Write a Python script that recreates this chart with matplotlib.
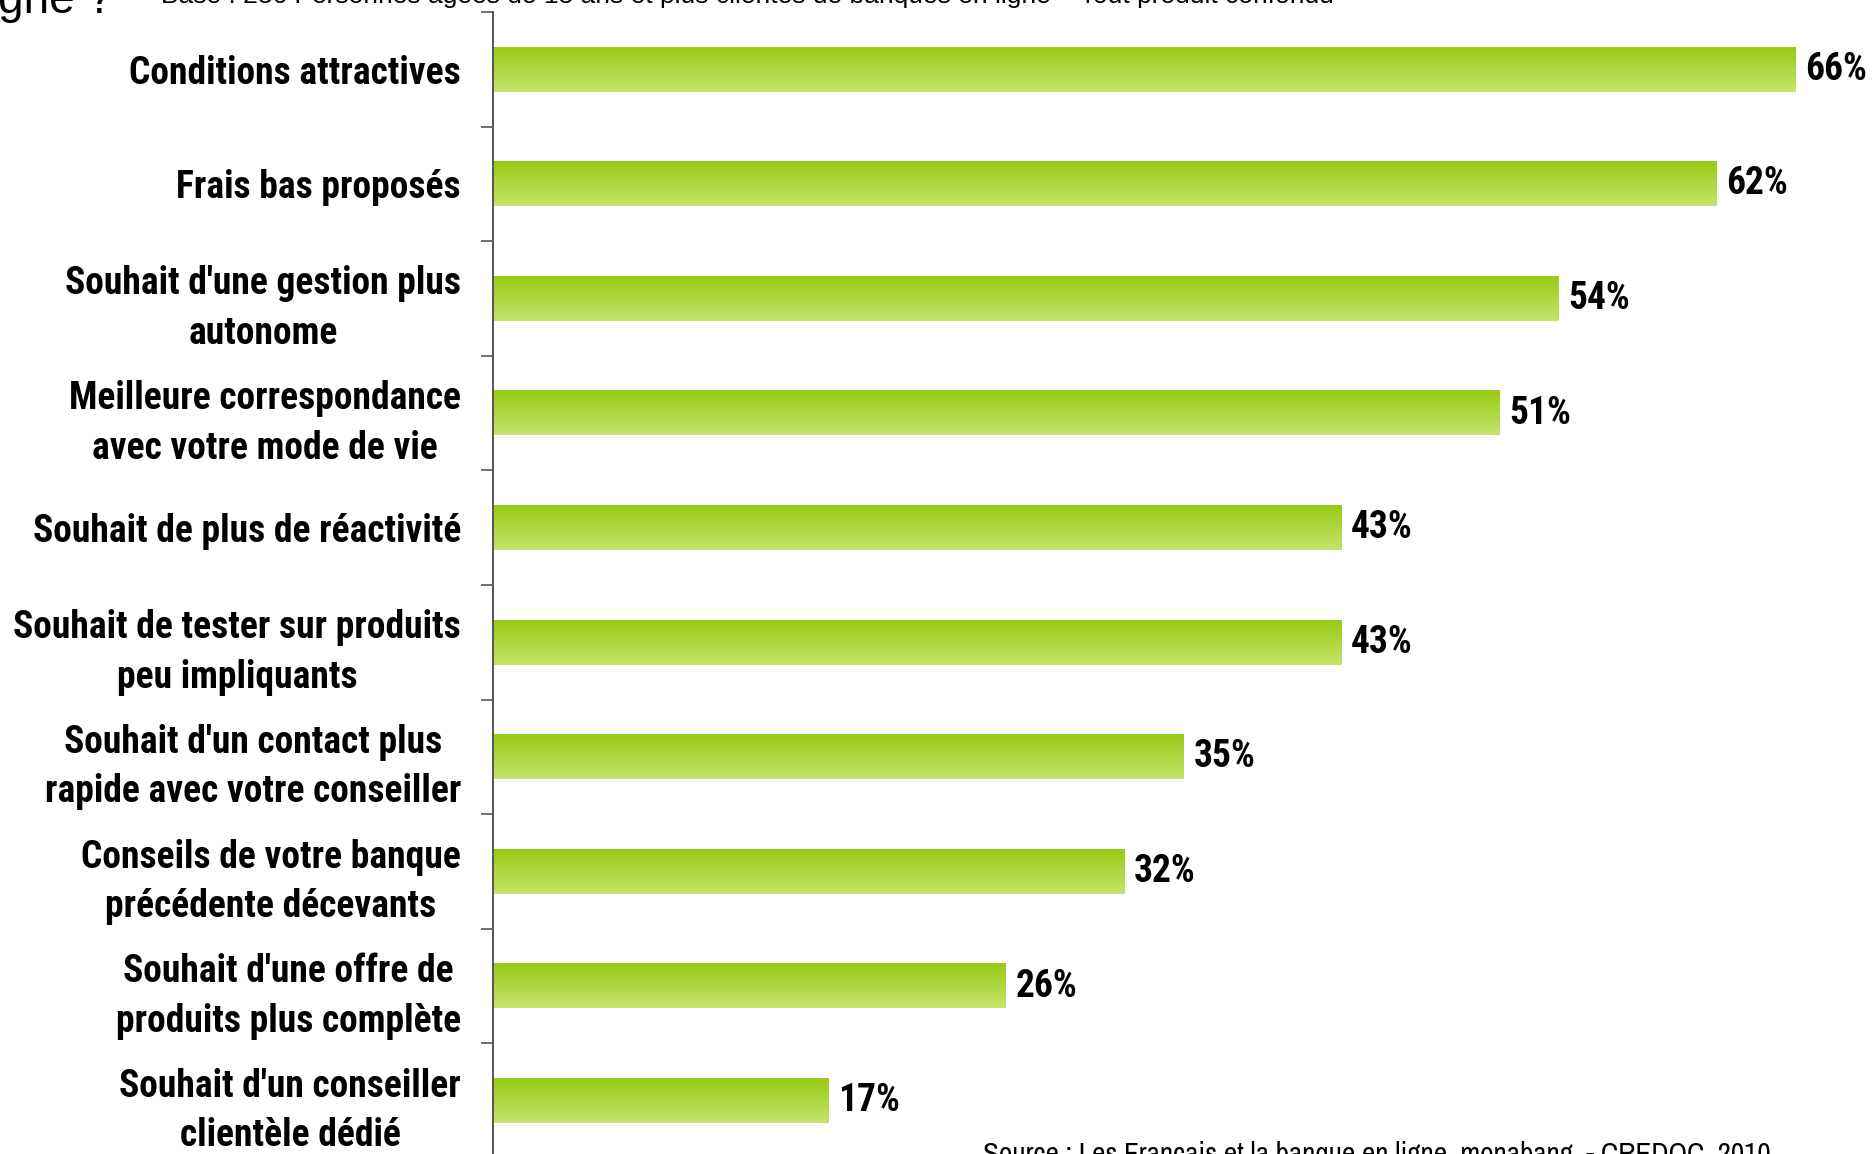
import numpy as np
import matplotlib
matplotlib.use("Agg")
import matplotlib.pyplot as plt
from matplotlib.colors import LinearSegmentedColormap

# Données
categories = [
    "Conditions attractives",
    "Frais bas proposés",
    "Souhait d'une gestion plus\nautonome",
    "Meilleure correspondance\navec votre mode de vie",
    "Souhait de plus de réactivité",
    "Souhait de tester sur produits\npeu impliquants",
    "Souhait d'un contact plus\nrapide avec votre conseiller",
    "Conseils de votre banque\nprécédente décevants",
    "Souhait d'une offre de\nproduits plus complète",
    "Souhait d'un conseiller\nclientèle dédié",
]
values = [66, 62, 54, 51, 43, 43, 35, 32, 26, 17]

titre = "Pourquoi avez-vous choisi une banque en ligne ?"
sous_titre = ("Base : 286 Personnes âgées de 18 ans et plus clientes de banques "
              "en ligne – Tout produit confondu")
source = "Source : Les Français et la banque en ligne, monabang, - CREDOC, 2010"

NARROW = ["Roboto Condensed", "Liberation Sans"]
NARROW_REG = ["Archivo Narrow", "Liberation Sans"]
REGULAR = ["Arimo", "Liberation Sans", "DejaVu Sans"]

W, H = 1876, 1154
fig = plt.figure(figsize=(W / 100, H / 100), dpi=100)
ax = fig.add_axes([493 / W, -4 / H, 1 - 493 / W, 1 - 8 / H])

y = np.arange(len(categories))
bar_h = 0.39

# dégradé vert (haut foncé -> bas clair)
cmap = LinearSegmentedColormap.from_list("vert", ["#97cb14", "#c6e36c"])
grad = np.linspace(0, 1, 64).reshape(-1, 1)
bars = ax.barh(y, values, height=bar_h, color="none", edgecolor="none")
for b in bars:
    x0, y0, w, h = b.get_x(), b.get_y(), b.get_width(), b.get_height()
    ax.imshow(grad, cmap=cmap, aspect="auto", interpolation="bicubic",
              extent=[x0, x0 + w, y0 + h, y0], zorder=2)

for yi, v in zip(y, values):
    ax.text(v + 0.5, yi, f"{v}%", va="center", ha="left",
            fontsize=27, fontweight="bold", family=NARROW)

ax.set_xlim(0, 70.1)
ax.set_ylim(len(categories) - 0.5, -0.5)

ax.set_yticks(y)
ax.set_yticklabels(categories, fontsize=27, fontweight="bold", family=NARROW,
                   multialignment="center", linespacing=1.43)
ax.set_yticks(np.arange(len(categories) + 1) - 0.5, minor=True)
ax.tick_params(axis="y", which="major", length=0, pad=23)
ax.tick_params(axis="y", which="minor", length=9, width=1.2, color="#555555")
ax.tick_params(axis="x", bottom=False, labelbottom=False)

for s in ["top", "right", "bottom"]:
    ax.spines[s].set_visible(False)
ax.spines["left"].set_color("#555555")
ax.spines["left"].set_linewidth(1.4)

# textes coupés par le bord de la figure
fig.text(113 / W, 1 - 13 / H, titre, ha="right", va="baseline",
         fontsize=33, family=REGULAR)
fig.text(161 / W, 1 - 3 / H, sous_titre, ha="left", va="baseline",
         fontsize=19, family=REGULAR)
fig.text(983 / W, 1 - 1163 / H, source, ha="left", va="baseline",
         fontsize=21, family=NARROW_REG)

fig.savefig("out.png", dpi=100)
